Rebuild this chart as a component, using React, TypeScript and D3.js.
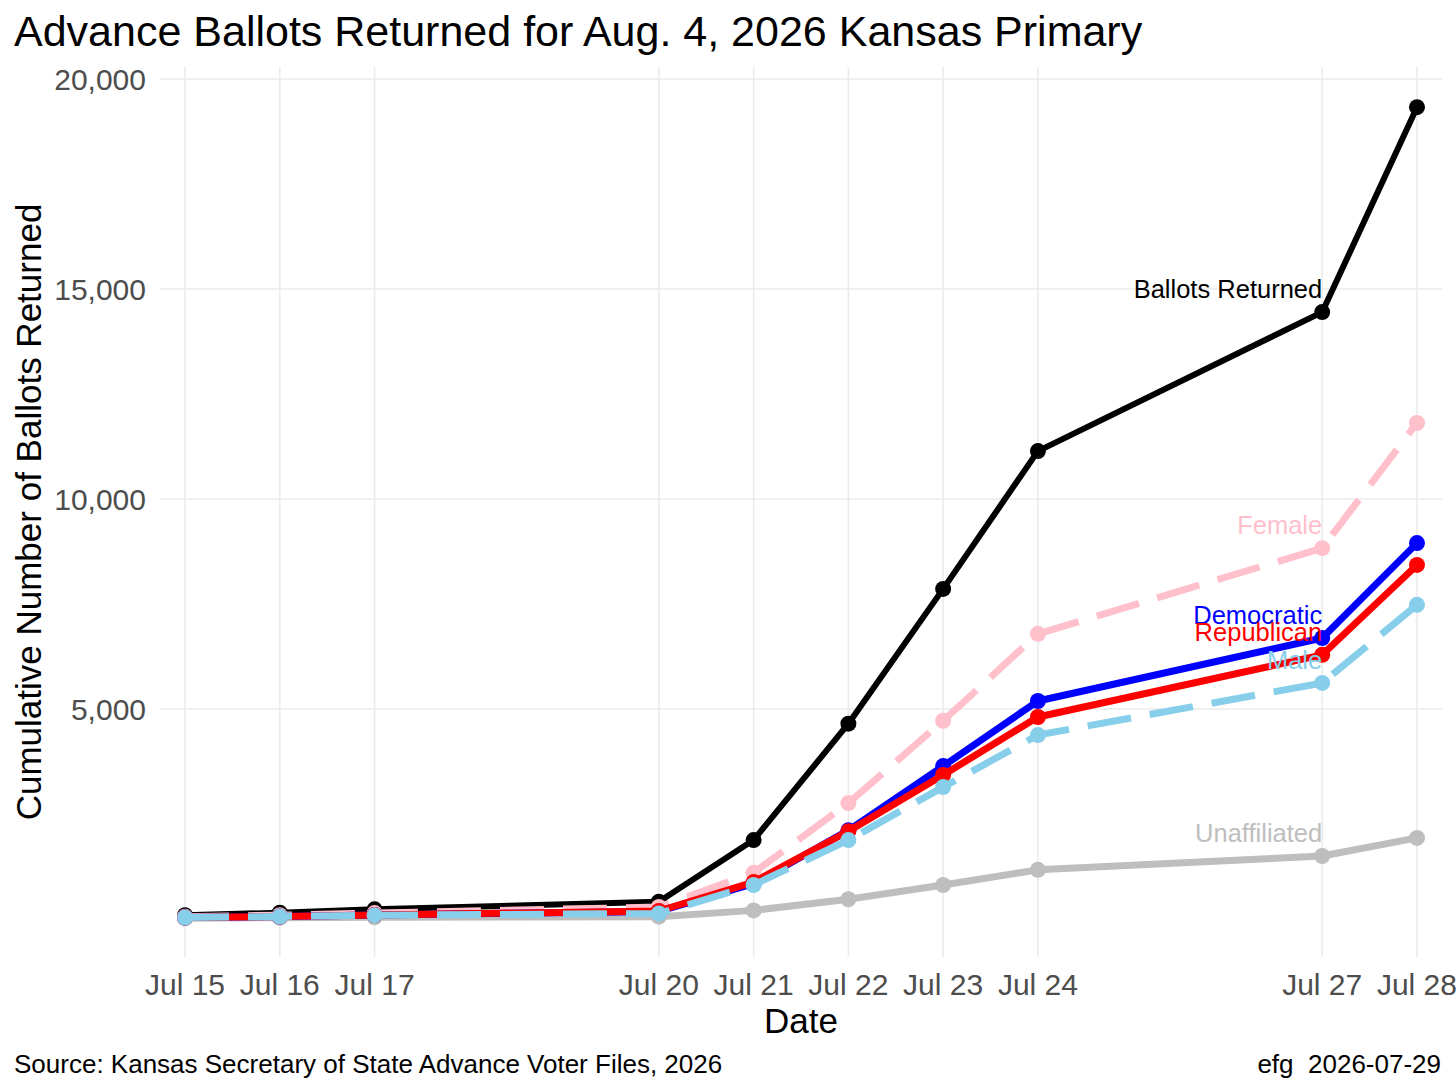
import React from 'react';
import * as d3 from 'd3';

// dates with returns reported
const dates = ['2026-07-15', '2026-07-16', '2026-07-17', '2026-07-20', '2026-07-21',
    '2026-07-22', '2026-07-23', '2026-07-24', '2026-07-27', '2026-07-28'];

// cumulative counts
const ballotsReturned = [90, 150, 230, 410, 1880, 4650, 7860, 11140, 14450, 19330];
const female = [55, 90, 140, 285, 1100, 2760, 4720, 6790, 8830, 11810];
const male = [35, 60, 90, 130, 810, 1880, 3140, 4380, 5620, 7480];
const democratic = [35, 60, 95, 180, 840, 2110, 3640, 5190, 6690, 8950];
const republican = [35, 60, 95, 190, 880, 2090, 3430, 4810, 6290, 8430];
const unaffiliated = [20, 30, 40, 55, 205, 470, 810, 1170, 1500, 1930];

const yTicks = [5000, 10000, 15000, 20000];

const series = [
    { name: 'Ballots Returned', values: ballotsReturned, color: '#000000', width: 6, dash: null },
    { name: 'Unaffiliated', values: unaffiliated, color: '#BEBEBE', width: 7, dash: null },
    { name: 'Female', values: female, color: '#FFC0CB', width: 7, dash: '44,19' },
    { name: 'Democratic', values: democratic, color: '#0000FF', width: 7, dash: null },
    { name: 'Republican', values: republican, color: '#FF0000', width: 7, dash: null },
    { name: 'Male', values: male, color: '#87CEEB', width: 7, dash: '44,19' },
];

const W = 1456;
const H = 1092;
const FONT = '"Liberation Sans", Arial, sans-serif';

const App: React.FC = () => {
    const svgRef = React.useRef<SVGSVGElement>(null);

    React.useEffect(() => {
        if (!svgRef.current) return;
        const svg = d3.select(svgRef.current);
        svg.selectAll('*').remove();

        const parse = d3.timeParse('%Y-%m-%d');
        const xDates = dates.map(d => parse(d) as Date);
        const day = 24 * 3600 * 1000;
        const pad = 0.264 * day;

        const panel = { left: 160, right: 1442, top: 67, bottom: 957 };

        const x = d3.scaleTime()
            .domain([new Date(+xDates[0] - pad), new Date(+xDates[xDates.length - 1] + pad)])
            .range([panel.left, panel.right]);

        const y = d3.scaleLinear()
            .domain([-905, 20286])
            .range([panel.bottom, panel.top]);

        // grid
        svg.append('g')
            .selectAll('line')
            .data(yTicks)
            .enter()
            .append('line')
            .attr('x1', panel.left)
            .attr('x2', panel.right)
            .attr('y1', d => y(d))
            .attr('y2', d => y(d))
            .attr('stroke', '#EBEBEB')
            .attr('stroke-width', 1.6);

        svg.append('g')
            .selectAll('line')
            .data(xDates)
            .enter()
            .append('line')
            .attr('x1', d => x(d))
            .attr('x2', d => x(d))
            .attr('y1', panel.top)
            .attr('y2', panel.bottom)
            .attr('stroke', '#EBEBEB')
            .attr('stroke-width', 1.6);

        // tick labels
        const fmt = d3.format(',');
        svg.append('g')
            .selectAll('text')
            .data(yTicks)
            .enter()
            .append('text')
            .attr('x', 146)
            .attr('y', d => y(d))
            .attr('dy', '0.36em')
            .attr('text-anchor', 'end')
            .attr('font-family', FONT)
            .attr('font-size', 30)
            .attr('fill', '#4D4D4D')
            .text(d => fmt(d));

        const dateFmt = d3.timeFormat('%b %d');
        svg.append('g')
            .selectAll('text')
            .data(xDates)
            .enter()
            .append('text')
            .attr('x', d => x(d))
            .attr('y', 995)
            .attr('text-anchor', 'middle')
            .attr('font-family', FONT)
            .attr('font-size', 30)
            .attr('fill', '#4D4D4D')
            .text(d => dateFmt(d));

        // lines and points, one series at a time
        const line = d3.line<number>()
            .x((_, i) => x(xDates[i]))
            .y(d => y(d));

        series.forEach(s => {
            const g = svg.append('g');
            g.append('path')
                .datum(s.values)
                .attr('d', line)
                .attr('fill', 'none')
                .attr('stroke', s.color)
                .attr('stroke-width', s.width)
                .attr('stroke-linejoin', 'round')
                .attr('stroke-dasharray', s.dash);
            g.selectAll('circle')
                .data(s.values)
                .enter()
                .append('circle')
                .attr('cx', (_, i) => x(xDates[i]))
                .attr('cy', d => y(d))
                .attr('r', 8)
                .attr('fill', s.color);
        });

        // series labels next to Jul 27 point
        const li = 8;
        series.forEach(s => {
            svg.append('text')
                .attr('x', x(xDates[li]))
                .attr('y', y(s.values[li]) - 23)
                .attr('dy', '0.36em')
                .attr('text-anchor', 'end')
                .attr('font-family', FONT)
                .attr('font-size', 25.5)
                .attr('fill', s.color)
                .text(s.name);
        });

        // titles
        svg.append('text')
            .attr('x', 14)
            .attr('y', 46)
            .attr('font-family', FONT)
            .attr('font-size', 43)
            .attr('fill', '#000')
            .text('Advance Ballots Returned for Aug. 4, 2026 Kansas Primary');

        svg.append('text')
            .attr('x', (panel.left + panel.right) / 2)
            .attr('y', 1033)
            .attr('text-anchor', 'middle')
            .attr('font-family', FONT)
            .attr('font-size', 35)
            .attr('fill', '#000')
            .text('Date');

        svg.append('text')
            .attr('transform', `translate(41, ${(panel.top + panel.bottom) / 2}) rotate(-90)`)
            .attr('text-anchor', 'middle')
            .attr('font-family', FONT)
            .attr('font-size', 35)
            .attr('fill', '#000')
            .text('Cumulative Number of Ballots Returned');

        svg.append('text')
            .attr('x', 14)
            .attr('y', 1073)
            .attr('font-family', FONT)
            .attr('font-size', 26)
            .attr('fill', '#000')
            .text('Source: Kansas Secretary of State Advance Voter Files, 2026');

        svg.append('text')
            .attr('x', 1441)
            .attr('y', 1073)
            .attr('text-anchor', 'end')
            .attr('font-family', FONT)
            .attr('font-size', 26)
            .attr('fill', '#000')
            .style('white-space', 'pre')
            .text('efg  2026-07-29');
    }, []);

    return (
        <svg
            ref={svgRef}
            width={W}
            height={H}
            style={{ position: 'absolute', left: 0, top: 0, background: '#fff' }}
        />
    );
};

export default App;
